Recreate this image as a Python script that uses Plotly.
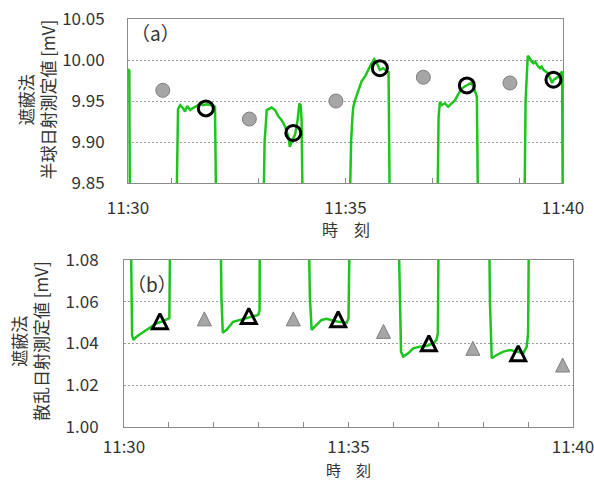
import plotly.graph_objects as go

# Pyranometer signal (shading method), minutes after 11:30 and output in mV.
# The same trace is shown twice: unshaded (global) level in (a), shaded (diffuse) level in (b).
sig_min = [
    0.00, 0.03, 0.045, 0.15, 0.18, 0.21, 0.28, 0.39, 0.51, 0.62, 0.73, 0.84, 0.95, 1.01, 1.03,
    1.11, 1.13, 1.15, 1.20, 1.26, 1.31, 1.36, 1.43, 1.49, 1.59, 1.66, 1.72, 1.82, 1.91, 1.98, 2.00, 2.03,
    2.15, 2.17, 2.20, 2.29, 2.43, 2.58, 2.73, 2.88, 2.99, 3.02, 3.04,
    3.11, 3.14, 3.19, 3.30, 3.38, 3.46, 3.53, 3.61, 3.69, 3.72, 3.76, 3.84, 3.90, 3.94, 3.97, 3.99, 4.02,
    4.11, 4.14, 4.18, 4.29, 4.40, 4.51, 4.63, 4.74, 4.96, 5.00, 5.03,
    5.09, 5.13, 5.16, 5.18, 5.22, 5.29, 5.37, 5.45, 5.52, 5.60, 5.66, 5.72, 5.79, 5.87, 5.95, 5.99, 6.02,
    6.11, 6.13, 6.17, 6.22, 6.33, 6.44, 6.59, 6.74, 6.89, 6.96, 6.99, 7.01,
    7.11, 7.14, 7.17, 7.21, 7.29, 7.36, 7.44, 7.52, 7.59, 7.67, 7.75, 7.82, 7.89, 7.94, 7.99, 8.02, 8.05,
    8.13, 8.15, 8.19, 8.30, 8.45, 8.60, 8.75, 8.89, 8.97, 9.00, 9.02,
    9.11, 9.14, 9.19, 9.24, 9.28, 9.32, 9.36, 9.40, 9.43, 9.47, 9.51, 9.55, 9.59, 9.65, 9.70, 9.75,
    9.79, 9.85, 9.91, 9.95, 9.98, 9.995, 10.05,
]
sig_mv = [
    9.989, 9.987, 9.80, 1.10, 1.044, 1.0417, 1.0433, 1.0449, 1.0465, 1.0480, 1.0497, 1.0505, 1.0513, 1.0521, 1.10,
    9.80, 9.90, 9.940, 9.945, 9.9415, 9.937, 9.944, 9.939, 9.9415, 9.944, 9.9476, 9.945, 9.946, 9.945, 9.944, 9.943, 9.80,
    1.10, 1.062, 1.0452, 1.0467, 1.0504, 1.0513, 1.0521, 1.0529, 1.0537, 1.056, 1.10,
    9.80, 9.90, 9.939, 9.942, 9.939, 9.931, 9.927, 9.919, 9.906, 9.894, 9.900, 9.909, 9.927, 9.947, 9.945, 9.927, 9.80,
    1.10, 1.062, 1.0465, 1.0489, 1.0513, 1.0518, 1.0513, 1.0505, 1.0500, 1.052, 1.10,
    9.80, 9.902, 9.931, 9.943, 9.951, 9.963, 9.974, 9.980, 9.988, 9.996, 10.001, 9.996, 9.988, 9.990, 9.986, 9.985, 9.80,
    1.10, 1.075, 1.036, 1.0337, 1.0353, 1.0377, 1.0385, 1.0388, 1.0400, 1.0417, 1.045, 1.10,
    9.80, 9.930, 9.949, 9.945, 9.947, 9.943, 9.947, 9.951, 9.958, 9.965, 9.968, 9.970, 9.972, 9.968, 9.961, 9.955, 9.80,
    1.10, 1.060, 1.0329, 1.0345, 1.0361, 1.0369, 1.0361, 1.0353, 1.0385, 1.045, 1.10,
    9.80, 9.950, 10.005, 10.002, 9.998, 9.996, 9.998, 9.994, 9.992, 9.990, 9.992, 9.988, 9.986, 9.984, 9.978, 9.972,
    9.976, 9.978, 9.980, 9.984, 9.986, 9.80, 1.10,
]

# (a) global: gray = reference values, open circles = values taken from the signal
glob_ref_min = [0.80, 2.79, 4.78, 6.79, 8.78]
glob_ref_mv = [9.963, 9.928, 9.950, 9.979, 9.972]
glob_pick_min = [1.79, 3.80, 5.79, 7.79, 9.78]
glob_pick_mv = [9.941, 9.911, 9.990, 9.969, 9.976]

# (b) diffuse: open triangles = values taken from the signal, gray = reference values
diff_pick_min = [0.80, 2.78, 4.77, 6.79, 8.78]
diff_pick_mv = [1.0507, 1.0532, 1.0516, 1.0401, 1.0353]
diff_ref_min = [1.79, 3.77, 5.78, 7.77, 9.77]
diff_ref_mv = [1.0518, 1.0518, 1.0458, 1.0377, 1.0297]

# time axis
x_range = [0, 10]
ticks_a = [0, 1, 3, 5, 7, 9, 10]
ticks_b = [0, 1, 2, 3, 4, 5, 6, 7, 8, 9, 10]
label_at = {0: "11:30", 5: "11:35", 10: "11:40"}

W, H = 594, 480
FONT = "Noto Sans CJK JP"
GREEN = "#1fc41f"
FRAME = "#8a8a8a"
GRAYFILL = "#a6a6a6"
GRAYLINE = "#7f7f7f"
TXT = "#333333"

fig = go.Figure()

for xa, ya in (("x", "y"), ("x2", "y2")):
    fig.add_trace(go.Scatter(x=sig_min, y=sig_mv, mode="lines", xaxis=xa, yaxis=ya,
                             line=dict(color=GREEN, width=2.5), hoverinfo="skip"))

fig.add_trace(go.Scatter(x=glob_ref_min, y=glob_ref_mv, mode="markers", xaxis="x", yaxis="y",
                         marker=dict(symbol="circle", size=14, color=GRAYFILL,
                                     line=dict(color=GRAYLINE, width=1))))
fig.add_trace(go.Scatter(x=glob_pick_min, y=glob_pick_mv, mode="markers", xaxis="x", yaxis="y",
                         marker=dict(symbol="circle-open", size=15, color="black",
                                     line=dict(color="black", width=3))))
fig.add_trace(go.Scatter(x=diff_ref_min, y=diff_ref_mv, mode="markers", xaxis="x2", yaxis="y2",
                         marker=dict(symbol="arrow-down", angle=180, standoff=7, size=14,
                                     color=GRAYFILL, line=dict(color=GRAYLINE, width=1))))
fig.add_trace(go.Scatter(x=diff_pick_min, y=diff_pick_mv, mode="markers", xaxis="x2", yaxis="y2",
                         marker=dict(symbol="arrow-down-open", angle=180, standoff=7.5, size=15,
                                     color="black", line=dict(color="black", width=3))))


def xaxis(domain, anchor, vals, standoff):
    return dict(domain=domain, anchor=anchor, range=x_range, tickmode="array",
                tickvals=vals, ticktext=[label_at.get(v, "") for v in vals],
                ticks="inside", ticklen=5, tickcolor=FRAME, tickwidth=1,
                ticklabelstandoff=standoff, ticklabeloverflow="allow", automargin=False,
                showgrid=False, zeroline=False, showline=True, mirror=True,
                linecolor=FRAME, linewidth=1,
                tickfont=dict(family=FONT, size=17, color=TXT))


def yaxis(domain, anchor, rng, dtick, standoff):
    return dict(domain=domain, anchor=anchor, range=rng, dtick=dtick, tick0=rng[0],
                tickformat=".2f", ticks="", ticklabelstandoff=standoff, automargin=False,
                showgrid=True, gridcolor="#9a9a9a", gridwidth=1, griddash="2px,2px",
                zeroline=False, showline=True, mirror=True, linecolor=FRAME, linewidth=1,
                tickfont=dict(family=FONT, size=17, color=TXT))


fig.update_layout(
    width=W, height=H, margin=dict(l=0, r=0, t=0, b=0),
    paper_bgcolor="white", plot_bgcolor="white", showlegend=False,
    xaxis=xaxis([128 / W, 563 / W], "y", ticks_a, 10),
    yaxis=yaxis([1 - 183 / H, 1 - 19 / H], "x", [9.85, 10.05], 0.05, 19),
    xaxis2=xaxis([124 / W, 573 / W], "y2", ticks_b, 5),
    yaxis2=yaxis([1 - 427 / H, 1 - 260 / H], "x2", [1.00, 1.08], 0.02, 21),
)

ann = [
    dict(text="（a）", x=129 / W, y=1 - 33 / H, xanchor="left", yanchor="middle",
         font=dict(size=19, color=TXT)),
    dict(text="（b）", x=125 / W, y=1 - 283 / H, xanchor="left", yanchor="middle",
         font=dict(size=19, color=TXT)),
    dict(text="遮蔽法<br>半球日射測定値 [mV]", x=35.5 / W, y=1 - 100 / H, textangle=-90,
         xanchor="center", yanchor="middle", font=dict(size=17, color=TXT)),
    dict(text="遮蔽法<br>散乱日射測定値 [mV]", x=29 / W, y=1 - 341 / H, textangle=-90,
         xanchor="center", yanchor="middle", font=dict(size=17, color=TXT)),
    dict(text="時　刻", x=346 / W, y=1 - 229 / H, xanchor="center", yanchor="middle",
         font=dict(size=16, color=TXT)),
    dict(text="時　刻", x=348 / W, y=1 - 469.5 / H, xanchor="center", yanchor="middle",
         font=dict(size=15, color=TXT)),
]
for a in ann:
    a.update(xref="paper", yref="paper", showarrow=False)
    a["font"]["family"] = FONT
fig.update_layout(annotations=ann)

fig.write_html("out.html")
